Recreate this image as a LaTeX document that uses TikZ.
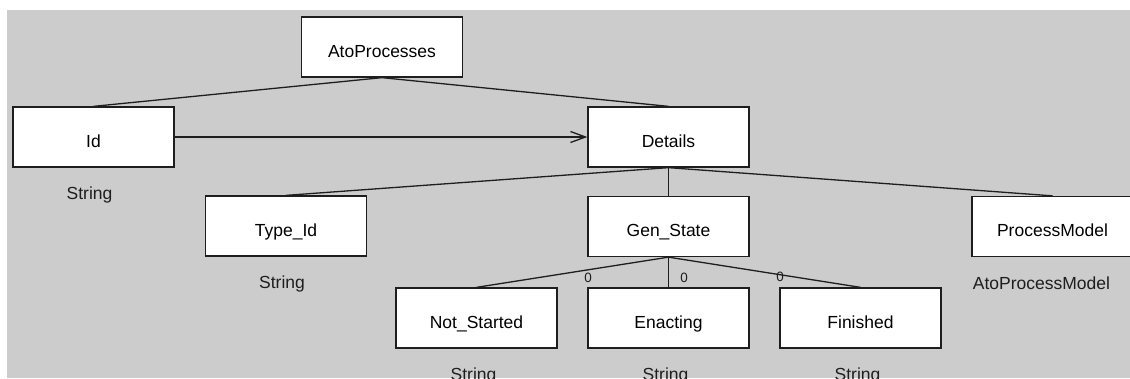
\documentclass[tikz,border=0pt]{standalone}
\usepackage{fontspec}
\setmainfont{Liberation Sans}
\usetikzlibrary{arrows.meta}
\definecolor{bggray}{RGB}{204,204,204}
\definecolor{ink}{RGB}{30,30,30}
\tikzset{
  cls/.style={draw=ink, line width=1.3pt, fill=white, rectangle, inner sep=0pt,
    minimum width=161pt, minimum height=60pt, text height=20pt, text depth=0pt,
    font=\fontsize{17.5}{20}\selectfont},
  typelbl/.style={anchor=base, inner sep=0pt, font=\fontsize{17.5}{20}\selectfont, text=ink},
  mult/.style={inner sep=0pt, font=\fontsize{13.5}{15}\selectfont, text=ink},
  conn/.style={draw=ink, line width=1.3pt},
  assoc/.style={conn, -{Straight Barb[length=15pt,width=11pt,line width=1.3pt]}}
}
\begin{document}
\begin{tikzpicture}[x=1pt,y=-1pt]
\useasboundingbox (0,0) rectangle (1130,378);
\fill[white] (0,0) rectangle (1130,378);
\fill[bggray] (7,10) rectangle (1130,378);
\begin{scope}
\clip (0,0) rectangle (1130,378);
% boxes
\node[cls] (ato) at (382,47) {AtoProcesses};
\node[cls] (id) at (93.5,137) {Id};
\node[cls] (det) at (668.5,137) {Details};
\node[cls] (type) at (286,226) {Type\_Id};
\node[cls] (gen) at (668.5,226.5) {Gen\_State};
\node[cls] (pm) at (1052.5,226.5) {ProcessModel};
\node[cls] (ns) at (476.5,318) {Not\_Started};
\node[cls] (ena) at (668.5,318) {Enacting};
\node[cls] (fin) at (860.5,318) {Finished};
% type labels
\node[typelbl] (idT) at ([xshift=-4pt,yshift=-32pt]id.south) {String};
\node[typelbl] (typeT) at ([xshift=-4pt,yshift=-32pt]type.south) {String};
\node[typelbl] (pmT) at ([xshift=-11pt,yshift=-32pt]pm.south) {AtoProcessModel};
\node[typelbl] (nsT) at ([xshift=-3pt,yshift=-32pt]ns.south) {String};
\node[typelbl] (enaT) at ([xshift=-3pt,yshift=-32pt]ena.south) {String};
\node[typelbl] (finT) at ([xshift=-3pt,yshift=-32pt]fin.south) {String};
% connectors
\draw[conn] (ato.south) -- (id.north);
\draw[conn] (ato.south) -- (det.north);
\draw[assoc] (id.east) -- (det.west);
\draw[conn] (det.south) -- (type.north);
\draw[conn] (det.south) -- (gen.north);
\draw[conn] (det.south) -- (pm.north);
\draw[conn] (gen.south) -- (ns.north);
\draw[conn] (gen.south) -- (ena.north);
\draw[conn] (gen.south) -- (fin.north);
% multiplicities
\node[mult] (m1) at (588,278) {0};
\node[mult] (m2) at (684,278) {0};
\node[mult] (m3) at (780,277) {0};
\end{scope}
\end{tikzpicture}
\end{document}
